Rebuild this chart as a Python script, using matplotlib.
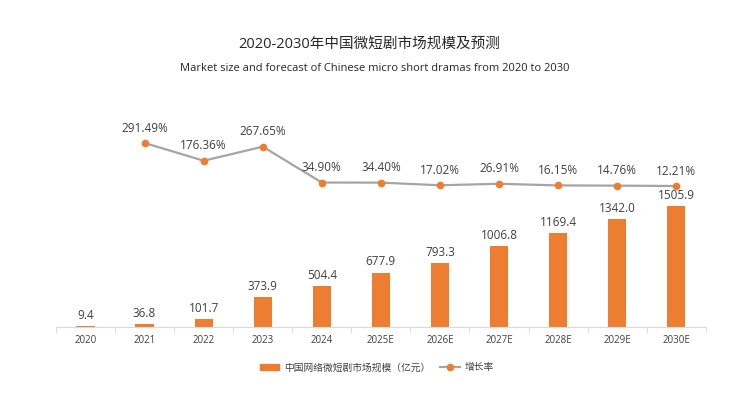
import matplotlib
matplotlib.use("Agg")
import matplotlib.pyplot as plt
import numpy as np
from matplotlib.patches import Patch
from matplotlib.lines import Line2D

plt.rcParams['font.family'] = ['Open Sans', 'Noto Sans CJK SC', 'DejaVu Sans']

years = ["2020", "2021", "2022", "2023", "2024", "2025E", "2026E",
         "2027E", "2028E", "2029E", "2030E"]
market_size = [9.4, 36.8, 101.7, 373.9, 504.4, 677.9, 793.3,
               1006.8, 1169.4, 1342.0, 1505.9]
growth_years = years[1:]
growth_rate = [291.49, 176.36, 267.65, 34.90, 34.40, 17.02, 26.91,
               16.15, 14.76, 12.21]

orange = "#ED7D31"
gray_line = "#A5A5A5"
text_col = "#404040"

fig = plt.figure(figsize=(7.39, 3.94), dpi=100)
ax = fig.add_axes([0.0758, 0.170, 0.8792, 0.678])
x = np.arange(len(years))

ax.bar(x, market_size, width=0.31, color=orange, zorder=2)
for xi, v in zip(x, market_size):
    ax.annotate(f"{v:.1f}", (xi, v), xytext=(0, 3), textcoords="offset points",
                ha="center", va="bottom", fontsize=8.5, color=text_col)
ax.set_xlim(-0.5, len(years) - 0.5)
ax.set_ylim(0, 3325)

for s in ["top", "right", "left"]:
    ax.spines[s].set_visible(False)
ax.spines["bottom"].set_color("#D9D9D9")
ax.set_yticks([])
ax.set_xticks(x)
ax.set_xticklabels(years, fontsize=7, color=text_col)
ax.tick_params(axis="x", length=0, pad=6)
ax.set_xticks(np.arange(-0.5, len(years)), minor=True)
ax.tick_params(axis="x", which="minor", length=4, color="#D9D9D9")

ax2 = ax.twinx()
gx = [years.index(y) for y in growth_years]
ax2.plot(gx, growth_rate, color=gray_line, lw=1.6, marker="o", ms=4.5,
         markerfacecolor=orange, markeredgecolor=orange, zorder=3)
for xi, v in zip(gx, growth_rate):
    ax2.annotate(f"{v:.2f}%", (xi, v), xytext=(0, 6), textcoords="offset points",
                 ha="center", va="bottom", fontsize=8.5, color=text_col)
ax2.set_ylim(-903, 831)
ax2.set_yticks([])
for s in ["top", "right", "left", "bottom"]:
    ax2.spines[s].set_visible(False)

fig.text(0.5, 0.887, "2020-2030年中国微短剧市场规模及预测", ha="center",
         va="center", fontsize=10.5, color="#262626")
fig.text(0.507, 0.827, "Market size and forecast of Chinese micro short dramas from 2020 to 2030",
         ha="center", va="center", fontsize=8, color="#262626")

handles = [Patch(color=orange, label="中国网络微短剧市场规模（亿元）"),
           Line2D([], [], color=gray_line, lw=1.6, marker="o", ms=4.5,
                  markerfacecolor=orange, markeredgecolor=orange, label="增长率")]
fig.legend(handles=handles, loc="center", bbox_to_anchor=(0.51, 0.066), ncol=2,
           frameon=False, fontsize=7, handlelength=2.0, columnspacing=1.0,
           handletextpad=0.5, labelcolor=text_col)

fig.savefig("out.png", dpi=100, facecolor="white")
